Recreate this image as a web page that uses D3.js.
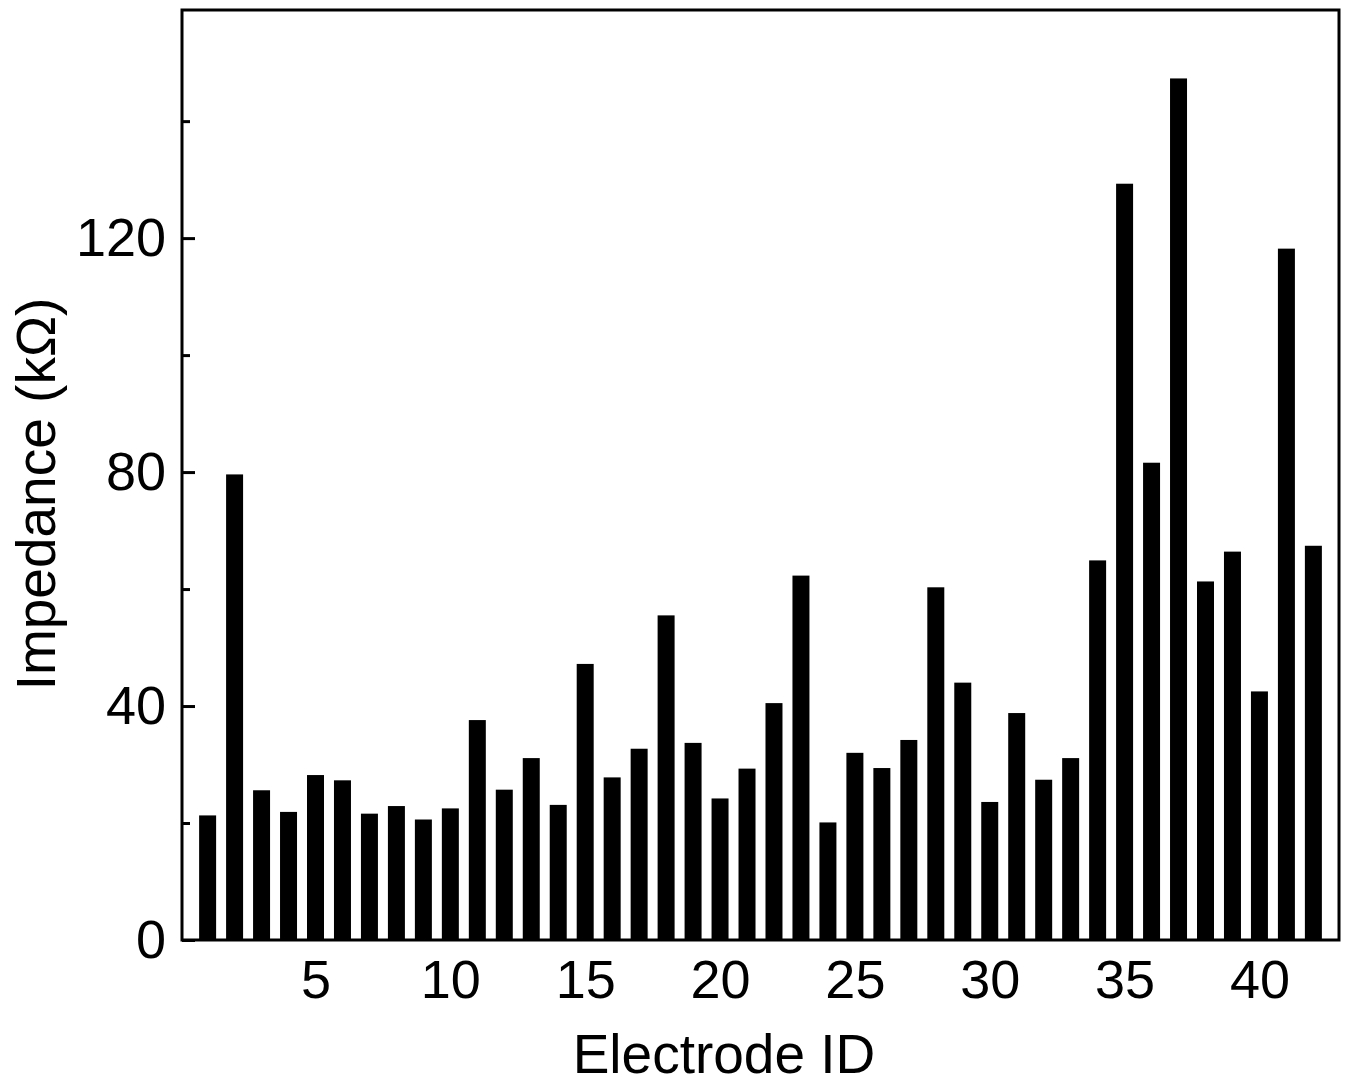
<!DOCTYPE html>
<html>
<head>
<meta charset="utf-8">
<script src="https://cdn.jsdelivr.net/npm/d3@7"></script>
<style>
  body { margin: 0; background: #fff; }
  svg { display: block; font-family: "Liberation Sans", Arial, sans-serif; }
</style>
</head>
<body>
<svg id="chart" width="1348" height="1085"></svg>
<script>
// electrode ids and impedance (kΩ)
const electrodes = d3.range(1, 43);
const impedance = [
    21.3, 79.6, 25.6, 21.9, 28.2, 27.3, 21.6, 22.9, 20.6, 22.5,
    37.6, 25.7, 31.1, 23.1, 47.2, 27.8, 32.7, 55.5, 33.7, 24.2,
    29.3, 40.5, 62.3, 20.1, 32.0, 29.4, 34.2, 60.3, 44.0, 23.6,
    38.8, 27.4, 31.1, 64.9, 129.3, 81.6, 147.3, 61.3, 66.4, 42.5,
    118.2, 67.4
];
const xTicks = [5, 10, 15, 20, 25, 30, 35, 40];
const yMajorTicks = [0, 40, 80, 120];
const yMinorTicks = [20, 60, 100, 140];

const margin = { top: 10, right: 9, bottom: 145, left: 182 };
const width = 1348 - margin.left - margin.right;
const height = 1085 - margin.top - margin.bottom;

const svg = d3.select("#chart");
const g = svg.append("g")
    .attr("transform", `translate(${margin.left},${margin.top})`);

const x = d3.scaleLinear().domain([0.05, 42.95]).range([0, width]);
const y = d3.scaleLinear().domain([0, 159]).range([height, 0]);

const barWidth = x(0.63) - x(0);

// bars
g.append("g")
    .selectAll("rect")
    .data(electrodes)
    .enter().append("rect")
    .attr("x", d => x(d) - barWidth / 2)
    .attr("y", d => y(impedance[d - 1]))
    .attr("width", barWidth)
    .attr("height", d => height - y(impedance[d - 1]))
    .attr("fill", "#000");

// x axis (labels only, no tick marks)
const xAxis = g.append("g")
    .attr("transform", `translate(0,${height})`)
    .call(d3.axisBottom(x).tickValues(xTicks).tickSize(0).tickPadding(20));
xAxis.select(".domain").remove();
xAxis.selectAll("text")
    .attr("font-size", 54)
    .attr("font-family", "Liberation Sans, Arial, sans-serif")
    .attr("fill", "#000");

// y axis, major ticks pointing inward
const yAxis = g.append("g")
    .call(d3.axisLeft(y).tickValues(yMajorTicks).tickSizeOuter(0).tickPadding(16));
yAxis.select(".domain").remove();
yAxis.selectAll("line")
    .attr("x1", 0)
    .attr("x2", 13)
    .attr("stroke", "#000")
    .attr("stroke-width", 3);
yAxis.selectAll("text")
    .attr("x", -16)
    .attr("font-size", 54)
    .attr("font-family", "Liberation Sans, Arial, sans-serif")
    .attr("fill", "#000");

// minor ticks
const yMinor = g.append("g")
    .call(d3.axisLeft(y).tickValues(yMinorTicks).tickSizeOuter(0).tickFormat(""));
yMinor.select(".domain").remove();
yMinor.selectAll("line")
    .attr("x1", 0)
    .attr("x2", 8)
    .attr("stroke", "#000")
    .attr("stroke-width", 3);

// frame
g.append("rect")
    .attr("x", 0)
    .attr("y", 0)
    .attr("width", width)
    .attr("height", height)
    .attr("fill", "none")
    .attr("stroke", "#000")
    .attr("stroke-width", 3);

// axis titles
svg.append("text")
    .attr("x", 724)
    .attr("y", 1073)
    .attr("text-anchor", "middle")
    .attr("font-size", 55)
    .attr("fill", "#000")
    .text("Electrode ID");

svg.append("text")
    .attr("transform", "translate(55,494) rotate(-90)")
    .attr("text-anchor", "middle")
    .attr("font-size", 55)
    .attr("fill", "#000")
    .text("Impedance (kΩ)");
</script>
</body>
</html>
